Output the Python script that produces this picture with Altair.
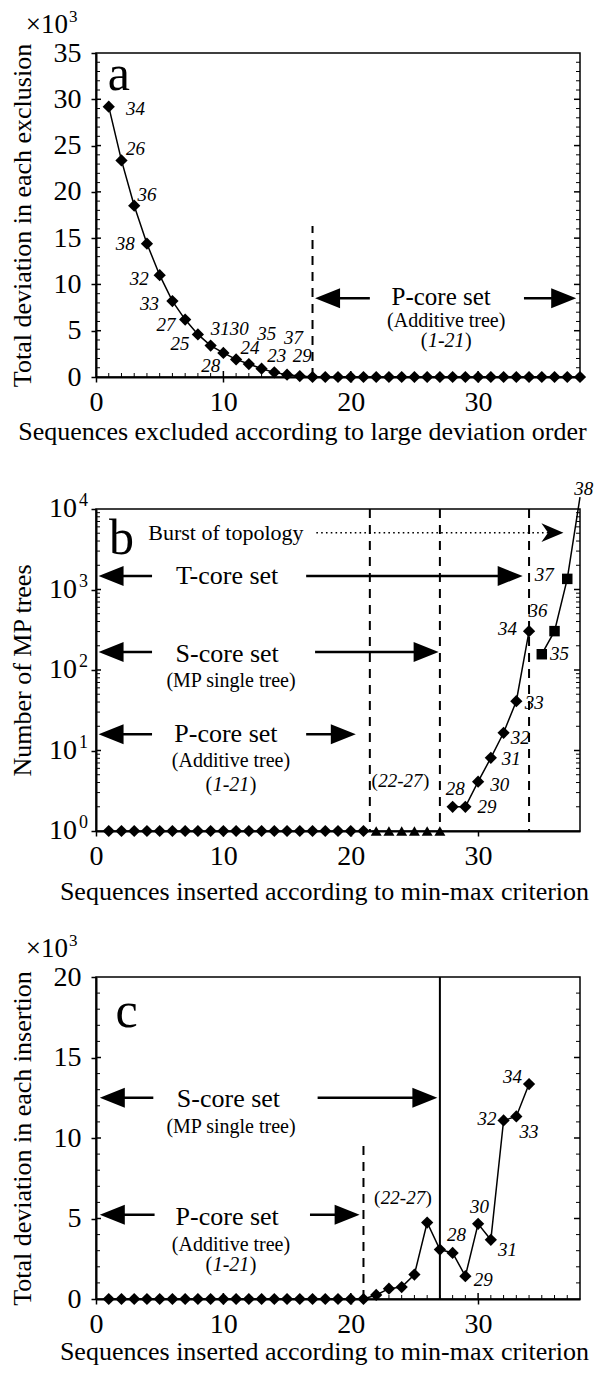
import altair as alt
import pandas as pd

FONT = "Liberation Serif"
W = 484
HA, HB, HC = 324, 322, 322

# ---------------- data: panel a ----------------
a_x = list(range(1, 39))
a_y = [29.2, 23.4, 18.5, 14.4, 11.0, 8.2, 6.2, 4.6, 3.4, 2.6, 1.9, 1.4, 0.9, 0.5,
       0.25, 0.1] + [0.0] * 22
a_lab = ["34", "26", "36", "38", "32", "33", "27", "25", "3130", "28", "24", "35", "37", "23", "29"]
a_lab_x = [3.1, 3.1, 4.0, 2.3, 3.4, 4.2, 5.5, 6.6, 10.5, 9.0, 12.1, 13.4, 15.5, 14.2, 16.2]
a_lab_y = [29.0, 24.6, 19.7, 14.4, 10.6, 7.9, 5.6, 3.6, 5.2, 1.2, 3.1, 4.6, 4.2, 2.3, 2.3]

# ---------------- data: panel b ----------------
b_d1_x = list(range(1, 22))
b_d1_y = [1] * 21
b_tri_x = list(range(22, 28))
b_tri_y = [1] * 6
b_d2_x = [28, 29, 30, 31, 32, 33, 34]
b_d2_y = [2, 2, 4.1, 8.1, 16.6, 41, 304]
b_sq_x = [35, 36, 37, 38]
b_sq_y = [157, 304, 1355, 14000]
b_lab = ["28", "29", "30", "31", "32", "33", "34", "36", "35", "37", "38"]
b_lab_x = [28.2, 30.7, 31.7, 32.6, 33.3, 34.4, 32.3, 34.7, 36.4, 35.2, 38.3]
b_lab_y = [3.3, 2.0, 3.7, 7.9, 14.4, 39, 326, 541, 157, 1500, 17600]
b_dash_x = [21.5, 27, 34]

# ---------------- data: panel c ----------------
c_x = list(range(1, 35))
c_y = [0.0] * 21 + [0.25, 0.64, 0.74, 1.52, 4.75, 3.07, 2.86, 1.42, 4.67, 3.68, 11.09, 11.34, 13.35]
c_lab = ["28", "29", "30", "31", "32", "33", "34"]
c_lab_x = [28.3, 30.4, 30.1, 32.3, 30.7, 34.0, 32.7]
c_lab_y = [3.95, 1.15, 5.74, 3.07, 11.2, 10.4, 13.8]

LEFT_HEAD = "M0,0 L2,-0.8 L2,0.8 Z"
RIGHT_HEAD = "M0,0 L-2,-0.8 L-2,0.8 Z"
STEALTH = "M0,0 L-2,-0.85 L-1.4,0 L-2,0.85 Z"

XS = alt.Scale(domain=[0, 38], nice=False, zero=False)


def xaxis(title, title_x, title_pad):
    return alt.Axis(values=[0, 10, 20, 30], title=title, grid=False, tickSize=5,
                    labelPadding=6, titlePadding=title_pad, labelFontSize=28, titleFontSize=26,
                    titleX=title_x)


def yaxis(title, values, labels=True, label_pad=10, title_pad=18):
    return alt.Axis(values=values, title=title, grid=False, tickSize=5, labels=labels,
                    labelPadding=label_pad, titlePadding=title_pad, labelFontSize=28,
                    titleFontSize=26, format="d")


def X(field, ax):
    return alt.X(field, type="quantitative", scale=XS, axis=ax)


def Y(field, ys, ax):
    return alt.Y(field, type="quantitative", scale=ys, axis=ax)


def tick_layers(XA, YS, YA, H, x_minor, x_major, y_minor, y_major, bottom=True):
    layers = []
    ymin = pd.DataFrame({"v": y_minor})
    ymaj = pd.DataFrame({"v": y_major})
    layers.append(alt.Chart(ymin).mark_rule(color="black", strokeWidth=1).encode(
        y=Y("v", YS, YA), x=alt.value(0), x2=alt.value(4)))
    layers.append(alt.Chart(ymaj).mark_rule(color="black", strokeWidth=1.5).encode(
        y=Y("v", YS, YA), x=alt.value(0), x2=alt.value(5)))
    layers.append(alt.Chart(ymin).mark_rule(color="black", strokeWidth=1).encode(
        y=Y("v", YS, YA), x=alt.value(W - 4), x2=alt.value(W)))
    layers.append(alt.Chart(ymaj).mark_rule(color="black", strokeWidth=1.5).encode(
        y=Y("v", YS, YA), x=alt.value(W - 6), x2=alt.value(W)))
    if bottom:
        layers.append(alt.Chart(pd.DataFrame({"v": x_minor})).mark_rule(color="black", strokeWidth=1).encode(
            x=X("v", XA), y=alt.value(H), y2=alt.value(H - 4)))
        layers.append(alt.Chart(pd.DataFrame({"v": x_major})).mark_rule(color="black", strokeWidth=1.5).encode(
            x=X("v", XA), y=alt.value(H), y2=alt.value(H - 6)))
    return layers


def arrows(XA, YS, YA, left, right):
    layers = []
    shafts = pd.DataFrame({
        "x1": [l[0] + 0.5 for l in left] + [r[0] for r in right],
        "x2": [l[1] for l in left] + [r[1] - 0.5 for r in right],
        "y": [l[2] for l in left] + [r[2] for r in right],
    })
    layers.append(alt.Chart(shafts).mark_rule(color="black", strokeWidth=2.6).encode(
        x=X("x1", XA), x2="x2", y=Y("y", YS, YA)))
    lh = pd.DataFrame({"x": [l[0] for l in left], "y": [l[2] for l in left]})
    rh = pd.DataFrame({"x": [r[1] for r in right], "y": [r[2] for r in right]})
    layers.append(alt.Chart(lh).mark_point(shape=LEFT_HEAD, filled=True, size=625, color="black",
                                           opacity=1, strokeWidth=0).encode(
        x=X("x", XA), y=Y("y", YS, YA)))
    layers.append(alt.Chart(rh).mark_point(shape=RIGHT_HEAD, filled=True, size=625, color="black",
                                           opacity=1, strokeWidth=0).encode(
        x=X("x", XA), y=Y("y", YS, YA)))
    return layers


def texts(XA, YS, YA, xs, ys, ts, size, italic=False, align="center"):
    df = pd.DataFrame({"x": xs, "y": ys, "t": ts})
    return alt.Chart(df).mark_text(font=FONT, fontSize=size, align=align, baseline="middle",
                                   fontStyle="italic" if italic else "normal", color="black").encode(
        x=X("x", XA), y=Y("y", YS, YA), text="t")


def paren_text(XA, YS, YA, x, y, inner, size, inner_em):
    # upright parentheses around an italic range label
    half = inner_em * size / 2 + 0.5
    df = pd.DataFrame({"x": [x], "y": [y], "t": [inner]})
    base = alt.Chart(df)
    enc = dict(x=X("x", XA), y=Y("y", YS, YA))
    return [
        base.mark_text(font=FONT, fontSize=size, fontStyle="italic", align="center",
                       baseline="middle", color="black").encode(text="t", **enc),
        base.mark_text(font=FONT, fontSize=size, align="right", baseline="middle", dx=-half,
                       color="black").encode(text=alt.value("("), **enc),
        base.mark_text(font=FONT, fontSize=size, align="left", baseline="middle", dx=half,
                       color="black").encode(text=alt.value(")"), **enc),
    ]


def times_ten():
    return [
        alt.Chart(pd.DataFrame({"t": ["\u00d710"]})).mark_text(font=FONT, fontSize=27, align="right",
                                                                 baseline="middle", color="black").encode(
            x=alt.value(-28), y=alt.value(-28), text="t"),
        alt.Chart(pd.DataFrame({"t": ["3"]})).mark_text(font=FONT, fontSize=17, align="left",
                                                          baseline="middle", color="black").encode(
            x=alt.value(-27), y=alt.value(-36), text="t"),
    ]


def series(XA, YS, YA, xs, ys, shape, line=True, size=150):
    df = pd.DataFrame({"x": xs, "y": ys})
    out = []
    if line:
        out.append(alt.Chart(df).mark_line(color="black", strokeWidth=1.5).encode(
            x=X("x", XA), y=Y("y", YS, YA)))
    out.append(alt.Chart(df).mark_point(shape=shape, filled=True, size=size, color="black",
                                        opacity=1).encode(x=X("x", XA), y=Y("y", YS, YA)))
    return out


EM_1_21 = 1.833
EM_22_27 = 2.333

# ================= panel a =================
XA_a = xaxis("Sequences excluded according to large deviation order", 206, 2)
YS_a = alt.Scale(domain=[0, 35], nice=False, zero=False)
YA_a = yaxis("Total deviation in each exclusion", [0, 5, 10, 15, 20, 25, 30, 35])

la = []
la += tick_layers(XA_a, YS_a, YA_a, HA,
                  [i for i in range(1, 38) if i % 10], [10, 20, 30],
                  [i for i in range(1, 35) if i % 5], [5, 10, 15, 20, 25, 30])
la.append(alt.Chart(pd.DataFrame({"x": [17], "y": [0], "y2": [16.3]})).mark_rule(
    color="black", strokeWidth=2, strokeDash=[9, 7]).encode(x=X("x", XA_a), y=Y("y", YS_a, YA_a), y2="y2"))
la += series(XA_a, YS_a, YA_a, a_x, a_y, "diamond")
la.append(texts(XA_a, YS_a, YA_a, a_lab_x, a_lab_y, a_lab, 19, italic=True))
la += arrows(XA_a, YS_a, YA_a, [(17.2, 21.5, 8.5)], [(33.6, 37.7, 8.5)])
la.append(texts(XA_a, YS_a, YA_a, [27.1], [8.6], ["P-core set"], 25))
la.append(texts(XA_a, YS_a, YA_a, [27.5], [6.05], ["(Additive tree)"], 20))
la += paren_text(XA_a, YS_a, YA_a, 27.5, 3.85, "1-21", 20, EM_1_21)
la.append(texts(XA_a, YS_a, YA_a, [1.8], [32.6], ["a"], 50))
la += times_ten()
pa = alt.layer(*la).properties(width=W, height=HA)

# ================= panel b =================
XA_b = xaxis("Sequences inserted according to min-max criterion", 228, 8)
YS_b = alt.Scale(type="log", domain=[1, 10000], nice=False)
YA_b = yaxis("Number of MP trees", [1, 10, 100, 1000, 10000], labels=False, title_pad=55)
b_minor = [m * 10 ** k for k in range(4) for m in range(2, 10)]

lb = []
lb += tick_layers(XA_b, YS_b, YA_b, HB, [], [], b_minor, [10, 100, 1000], bottom=False)
lb.append(alt.Chart(pd.DataFrame({"x": b_dash_x})).mark_rule(
    color="black", strokeWidth=2, strokeDash=[9, 7]).encode(x=X("x", XA_b), y=alt.value(0), y2=alt.value(HB)))
lb += series(XA_b, YS_b, YA_b, b_d1_x, b_d1_y, "diamond", line=False)
lb += series(XA_b, YS_b, YA_b, b_tri_x, b_tri_y, "triangle-up", line=False, size=120)
lb += series(XA_b, YS_b, YA_b, b_d2_x, b_d2_y, "diamond")
lb.append(alt.Chart(pd.DataFrame({"x": b_sq_x, "y": b_sq_y})).mark_line(color="black", strokeWidth=1.5).encode(
    x=X("x", XA_b), y=Y("y", YS_b, YA_b)))
lb.append(alt.Chart(pd.DataFrame({"x": b_sq_x[:3], "y": b_sq_y[:3]})).mark_point(
    shape="square", filled=True, size=110, color="black", opacity=1).encode(x=X("x", XA_b), y=Y("y", YS_b, YA_b)))
lb.append(texts(XA_b, YS_b, YA_b, b_lab_x, b_lab_y, b_lab, 19, italic=True))
lb += paren_text(XA_b, YS_b, YA_b, 23.9, 4.2, "22-27", 19, EM_22_27)
lb.append(texts(XA_b, YS_b, YA_b, [10.2], [5080], ["Burst of topology"], 22))
lb.append(alt.Chart(pd.DataFrame({"x1": [17.3], "x2": [36.0], "y": [5080]})).mark_rule(
    color="black", strokeWidth=1.6, strokeDash=[1.6, 3.2]).encode(x=X("x1", XA_b), x2="x2", y=Y("y", YS_b, YA_b)))
lb.append(alt.Chart(pd.DataFrame({"x": [36.7], "y": [5080]})).mark_point(
    shape=STEALTH, filled=True, size=484, color="black", opacity=1, strokeWidth=0).encode(
    x=X("x", XA_b), y=Y("y", YS_b, YA_b)))
lb += arrows(XA_b, YS_b, YA_b,
             [(0.2, 4.4, 1470), (0.2, 4.4, 167), (0.2, 4.4, 15.9)],
             [(16.5, 33.5, 1470), (17.2, 26.9, 167), (16.5, 20.4, 15.9)])
lb.append(texts(XA_b, YS_b, YA_b, [10.3, 10.3, 10.2], [1470, 160, 15.9],
                ["T-core set", "S-core set", "P-core set"], 26))
lb.append(texts(XA_b, YS_b, YA_b, [10.6, 10.6], [73, 7.4], ["(MP single tree)", "(Additive tree)"], 20))
lb += paren_text(XA_b, YS_b, YA_b, 10.6, 3.7, "1-21", 20, EM_1_21)
lb.append(texts(XA_b, YS_b, YA_b, [2.0], [4250], ["b"], 50))
b_exp_v = [1, 10, 100, 1000, 10000]
b_exp_t = ["0", "1", "2", "3", "4"]
lb.append(alt.Chart(pd.DataFrame({"v": b_exp_v})).mark_text(
    font=FONT, fontSize=28, align="right", baseline="middle", color="black").encode(
    y=Y("v", YS_b, YA_b), x=alt.value(-19), text=alt.value("10")))
lb.append(alt.Chart(pd.DataFrame({"v": b_exp_v, "e": b_exp_t})).mark_text(
    font=FONT, fontSize=18, align="right", baseline="middle", dy=-8, color="black").encode(
    y=Y("v", YS_b, YA_b), x=alt.value(-8), text="e"))
pb = alt.layer(*lb).properties(width=W, height=HB)

# ================= panel c =================
XA_c = xaxis("Sequences inserted according to min-max criterion", 228, 0)
YS_c = alt.Scale(domain=[0, 20], nice=False, zero=False)
YA_c = yaxis("Total deviation in each insertion", [0, 5, 10, 15, 20])

lc = []
lc += tick_layers(XA_c, YS_c, YA_c, HC,
                  [i for i in range(1, 38) if i % 10], [10, 20, 30],
                  [i for i in range(1, 20) if i % 5], [5, 10, 15])
lc.append(alt.Chart(pd.DataFrame({"x": [21], "y": [0], "y2": [9.6]})).mark_rule(
    color="black", strokeWidth=2, strokeDash=[9, 7]).encode(x=X("x", XA_c), y=Y("y", YS_c, YA_c), y2="y2"))
lc.append(alt.Chart(pd.DataFrame({"x": [27]})).mark_rule(color="black", strokeWidth=2).encode(
    x=X("x", XA_c), y=alt.value(0), y2=alt.value(HC)))
lc += series(XA_c, YS_c, YA_c, c_x, c_y, "diamond")
lc.append(texts(XA_c, YS_c, YA_c, c_lab_x, c_lab_y, c_lab, 19, italic=True))
lc += paren_text(XA_c, YS_c, YA_c, 24.1, 6.25, "22-27", 19, EM_22_27)
lc += arrows(XA_c, YS_c, YA_c,
             [(0.3, 4.5, 12.5), (0.3, 4.6, 5.23)],
             [(17.4, 26.8, 12.5), (16.8, 20.7, 5.23)])
lc.append(texts(XA_c, YS_c, YA_c, [10.4, 10.3], [12.4, 5.1], ["S-core set", "P-core set"], 26))
lc.append(texts(XA_c, YS_c, YA_c, [10.6, 10.6], [10.7, 3.35], ["(MP single tree)", "(Additive tree)"], 20))
lc += paren_text(XA_c, YS_c, YA_c, 10.6, 2.1, "1-21", 20, EM_1_21)
lc.append(texts(XA_c, YS_c, YA_c, [2.4], [17.8], ["c"], 50))
lc += times_ten()
pc = alt.layer(*lc).properties(width=W, height=HC)

inner = alt.vconcat(pb, pc, spacing=146, bounds="flush")
chart = alt.vconcat(
    pa, inner, spacing=132, bounds="flush",
    padding={"left": 0, "top": -1, "right": 0, "bottom": 0},
).configure_view(
    stroke="black", strokeWidth=1.5
).configure_axis(
    labelFont=FONT, titleFont=FONT, labelColor="black", titleColor="black",
    domainColor="black", tickColor="black", domainWidth=2, tickWidth=1.5,
    titleFontWeight="normal", labelFlush=False, labelOverlap=False
)

chart.save("out.html", embed_options={"renderer": "svg", "actions": False})
